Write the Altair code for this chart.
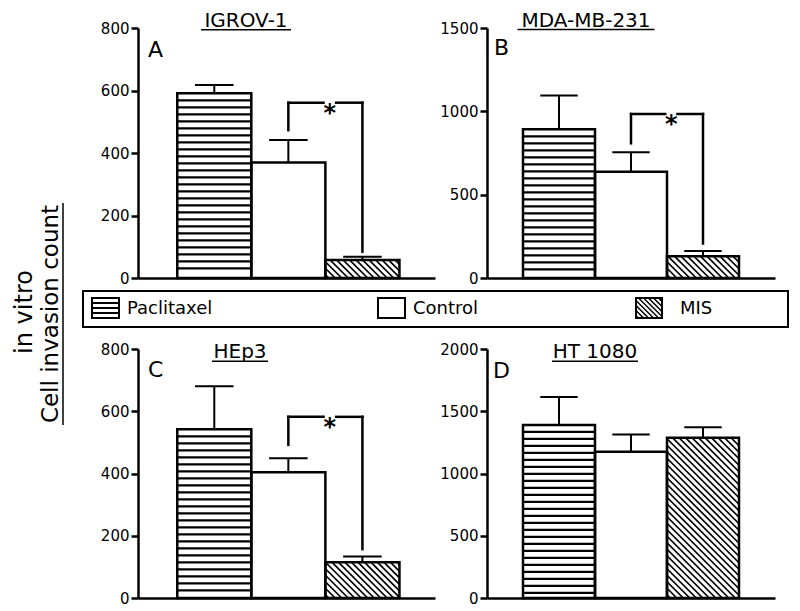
import altair as alt
import pandas as pd

# ---------------- data ----------------
cell_lines = ["IGROV-1", "MDA-MB-231", "HEp3", "HT 1080"]
panel_letters = ["A", "B", "C", "D"]
treatments = ["Paclitaxel", "Control", "MIS"]

paclitaxel_mean = [591, 892, 542, 1390]
paclitaxel_err = [27, 203, 138, 225]
control_mean = [370, 637, 404, 1174]
control_err = [72, 117, 45, 140]
mis_mean = [58, 130, 115, 1288]
mis_err = [10, 32, 18, 83]

y_max = [800, 1500, 800, 2000]
y_ticks = [[0, 200, 400, 600, 800], [0, 500, 1000, 1500],
           [0, 200, 400, 600, 800], [0, 500, 1000, 1500, 2000]]

# significance bracket Control vs MIS ("*"); none for HT 1080
sig_top = [561, 984, 582, None]
sig_control_end = [473, 808, 492, None]
sig_mis_end = [84, 207, 157, None]

y_title_top = "in vitro"
y_title_bottom = "Cell invasion count"

# ---------------- styling / layout ----------------
FONT = "DejaVu Sans"
PANEL_W = [297, 288, 297, 288]
PANEL_H = [250, 250, 249, 249]
X_DOM = [[-0.53, 3.48], [-0.5, 3.5], [-0.53, 3.48], [-0.5, 3.5]]
TITLE_X = [108, 99, 102, 108]
TITLE_BASE = [-1.2, -1.5, 9.3, 9.3]
TITLE_W = [90, 137, 56, 86]
LETTER_X = [10, 7, 10, 6]
LETTER_BASE = [29, 27, 28, 29]
STRIPE_PX = 7.0
HATCH_PX = 6.5
AST_X = 2.06
AST_GAP = 0.085
ROW_GAP = 71          # vertical gap between the two rows of panels
LEG_DY = -ROW_GAP     # legend drawn in panel C's frame, above it


def vrule(x, y, y2=None, x2=None, width=2.0):
    enc = dict(x=alt.value(x), y=alt.value(y))
    if y2 is not None:
        enc["y2"] = alt.value(y2)
    if x2 is not None:
        enc["x2"] = alt.value(x2)
    return alt.Chart(pd.DataFrame({"a": [0]})).mark_rule(
        color="black", strokeWidth=width).encode(**enc)


def legend_layers():
    one = pd.DataFrame({"a": [0]})
    d = LEG_DY
    out = [
        alt.Chart(one).mark_rect(fill="white", fillOpacity=0, stroke="black",
                                 strokeWidth=2).encode(
            x=alt.value(-55), x2=alt.value(650), y=alt.value(13 + d), y2=alt.value(49 + d)),
    ]
    sx0 = [-46, 240, 498]
    sx1 = [-19, 267, 524]
    lx = [-11, 275, 542]
    # Paclitaxel swatch stripes
    for yy in [25, 30, 35]:
        out.append(vrule(sx0[0], yy + d, x2=sx1[0], width=2))
    # MIS swatch hatch
    x0, x1, y0, y1 = sx0[2], sx1[2], 20, 40
    bw, bh = x1 - x0, y1 - y0
    c = 2.5
    while c < bw + bh:
        xa = max(0.0, c - bh)
        xb = min(bw, c)
        out.append(alt.Chart(one).mark_rule(color="black", strokeWidth=1.5).encode(
            x=alt.value(x0 + xa), y=alt.value(y1 - (c - xa) + d),
            x2=alt.value(x0 + xb), y2=alt.value(y1 - (c - xb) + d)))
        c += 5
    for i, name in enumerate(treatments):
        out.append(alt.Chart(one).mark_rect(fill="white", fillOpacity=0, stroke="black",
                                            strokeWidth=2).encode(
            x=alt.value(sx0[i]), x2=alt.value(sx1[i]),
            y=alt.value(20 + d), y2=alt.value(40 + d)))
        out.append(alt.Chart(pd.DataFrame({"t": [name]})).mark_text(
            font=FONT, fontSize=18, align="left", baseline="middle", color="black").encode(
            x=alt.value(lx[i]), y=alt.value(31 + d), text="t:N"))
    ttl = pd.DataFrame({"t1": [y_title_top], "t2": [y_title_bottom]})
    out += [
        alt.Chart(ttl).mark_text(font=FONT, fontSize=24, angle=270, align="center",
                                 baseline="alphabetic", color="black").encode(
            x=alt.value(-106), y=alt.value(34 + d), text="t1:N"),
        alt.Chart(ttl).mark_text(font=FONT, fontSize=23, angle=270, align="center",
                                 baseline="alphabetic", color="black").encode(
            x=alt.value(-80), y=alt.value(36 + d), text="t2:N"),
        vrule(-75, -75 + d, y2=147 + d, width=1.5),
    ]
    return out


def panel(k):
    means = [paclitaxel_mean[k], control_mean[k], mis_mean[k]]
    errs = [paclitaxel_err[k], control_err[k], mis_err[k]]
    w, h = PANEL_W[k], PANEL_H[k]
    xd = X_DOM[k]
    px_x = w / (xd[1] - xd[0])
    px_y = h / y_max[k]

    xs = alt.Scale(domain=xd, nice=False, zero=False)
    ys = alt.Scale(domain=[0, y_max[k]], nice=False, zero=True)
    xax = alt.Axis(labels=False, ticks=False, grid=False, domainColor="black",
                   domainWidth=2.5, title=None)
    yax = alt.Axis(values=y_ticks[k], grid=False, title=None, format="d",
                   labelFont=FONT, labelFontSize=15, labelColor="black",
                   tickColor="black", domainColor="black", tickWidth=2.5,
                   domainWidth=2.5, tickSize=7, labelPadding=2,
                   labelFlush=False, labelOverlap=False, labelBound=False)

    def X(f):
        return alt.X(f, type="quantitative", scale=xs, axis=xax)

    def Y(f):
        return alt.Y(f, type="quantitative", scale=ys, axis=yax)

    bars = pd.DataFrame({
        "treatment": treatments,
        "x0": [0, 1, 2], "x1": [1, 2, 3],
        "mean": means,
        "top": [m + e for m, e in zip(means, errs)],
    })
    bars["base"] = 0
    bars["xc"] = bars["x0"] + 0.5
    bars["capl"] = bars["xc"] - 0.26
    bars["capr"] = bars["xc"] + 0.26

    # horizontal stripes for Paclitaxel bar
    step = STRIPE_PX / px_y
    sy = []
    v = means[0] - step
    while v > 0.4 * step:
        sy.append(v)
        v -= step
    stripes = pd.DataFrame({"x0": 0.0, "x1": 1.0, "y": sy})

    # diagonal hatch for MIS bar
    bw, bh = px_x, means[2] * px_y
    rows = []
    c = HATCH_PX / 2
    while c < bw + bh:
        xa = max(0.0, c - bh)
        xb = min(bw, c)
        rows.append({"xa": 2 + xa / px_x, "ya": (c - xa) / px_y,
                     "xb": 2 + xb / px_x, "yb": (c - xb) / px_y})
        c += HATCH_PX
    hatch = pd.DataFrame(rows)

    layers = [
        alt.Chart(stripes).mark_rule(color="black", strokeWidth=2.3).encode(
            x=X("x0"), x2="x1", y=Y("y")),
        alt.Chart(hatch).mark_rule(color="black", strokeWidth=1.7).encode(
            x=X("xa"), y=Y("ya"), x2="xb", y2="yb"),
        alt.Chart(bars).mark_rect(fill="white", fillOpacity=0, stroke="black",
                                  strokeWidth=2.5).encode(
            x=X("x0"), x2="x1", y=Y("mean"), y2="base"),
        alt.Chart(bars).mark_rule(color="black", strokeWidth=2).encode(
            x=X("xc"), y=Y("mean"), y2="top"),
        alt.Chart(bars).mark_rule(color="black", strokeWidth=2).encode(
            x=X("capl"), x2="capr", y=Y("top")),
    ]

    if sig_top[k] is not None:
        t = sig_top[k]
        br = pd.DataFrame({
            "xa": [1.5, 1.5, AST_X + AST_GAP, 2.5],
            "ya": [sig_control_end[k], t, t, t],
            "xb": [1.5, AST_X - AST_GAP, 2.5, 2.5],
            "yb": [t, t, t, sig_mis_end[k]],
        })
        layers.append(alt.Chart(br).mark_rule(color="black", strokeWidth=2.5,
                                              strokeCap="square").encode(
            x=X("xa"), y=Y("ya"), x2="xb", y2="yb"))
        ast = pd.DataFrame({"x": [AST_X], "y": [t]})
        layers.append(alt.Chart(ast).mark_text(text="*", font=FONT, fontSize=24,
                                               fontWeight="bold", color="black",
                                               dy=11).encode(x=X("x"), y=Y("y")))

    tdf = pd.DataFrame({"title": [cell_lines[k]], "letter": [panel_letters[k]]})
    layers += [
        alt.Chart(tdf).mark_text(font=FONT, fontSize=20, align="center",
                                 baseline="alphabetic", color="black").encode(
            text="title:N", x=alt.value(TITLE_X[k]), y=alt.value(TITLE_BASE[k])),
        vrule(TITLE_X[k] - TITLE_W[k] / 2, TITLE_BASE[k] + 3,
              x2=TITLE_X[k] + TITLE_W[k] / 2, width=1.5),
        alt.Chart(tdf).mark_text(font=FONT, fontSize=22, align="left",
                                 baseline="alphabetic", color="black").encode(
            text="letter:N", x=alt.value(LETTER_X[k]), y=alt.value(LETTER_BASE[k])),
    ]
    if k == 2:
        layers += legend_layers()
    return alt.layer(*layers).properties(width=w, height=h)


chart = alt.concat(
    panel(0), panel(1), panel(2), panel(3),
    columns=2, spacing={"row": ROW_GAP, "column": 52}, bounds="flush",
).properties(
    padding={"left": 5, "top": 2, "right": 0, "bottom": 0}
).configure_view(strokeWidth=0)

chart.save("out.html", embed_options={"renderer": "svg", "actions": False})
